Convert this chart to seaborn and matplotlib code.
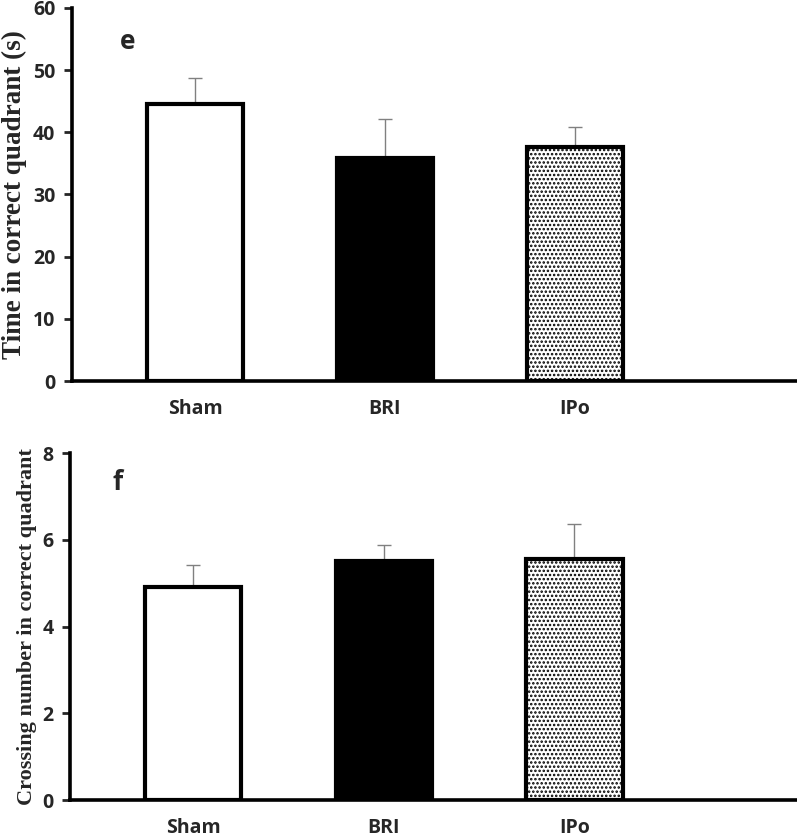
import matplotlib
matplotlib.use("Agg")
import matplotlib.pyplot as plt
import seaborn as sns
import pandas as pd

groups = ["Sham", "BRI", "IPo"]
time_mean = [44.5, 35.9, 37.7]
time_err = [4.2, 6.2, 3.1]
cross_mean = [4.9, 5.5, 5.55]
cross_err = [0.53, 0.38, 0.82]
fills = ["white", "black", "white"]
hatches = ["", "", "...."]

sns.set_style("white")
plt.rcParams["hatch.linewidth"] = 1.2
plt.rcParams["hatch.color"] = "#555555"

fig = plt.figure(figsize=(7.97, 8.38), dpi=100)
ax1 = fig.add_axes([0.0903, 0.5453, 0.9097, 0.4452])
ax2 = fig.add_axes([0.0878, 0.0453, 0.9122, 0.4141])

tick_font = dict(family="Open Sans", weight="bold", size=14)

def panel(ax, means, errs, ylim, yticks, ylabel, ylabsize, letter, lpos):
    df = pd.DataFrame({"group": groups, "value": means})
    sns.barplot(data=df, x="group", y="value", ax=ax, width=0.505,
                color="white", edgecolor="black", linewidth=3, errorbar=None)
    for p, fc, h, e, m in zip(ax.patches, fills, hatches, errs, means):
        p.set_facecolor(fc)
        p.set_hatch(h)
        cx = p.get_x() + p.get_width() / 2
        ax.errorbar(cx, m, yerr=[[0], [e]], fmt="none", ecolor="#808080",
                    elinewidth=1.0, capsize=5, capthick=1.0, zorder=1)
    for p in ax.patches:
        p.set_zorder(2)
    ax.set_xlim(-0.647, 3.168)
    ax.set_ylim(*ylim)
    ax.set_yticks(yticks)
    ax.set_yticklabels([str(t) for t in yticks], **tick_font)
    ax.set_xticks(range(len(groups)))
    ax.set_xticklabels(groups, **tick_font)
    ax.set_xlabel("")
    ax.set_ylabel(ylabel, family="Liberation Serif", weight="bold", size=ylabsize, labelpad=4)
    for s in ["top", "right"]:
        ax.spines[s].set_visible(False)
    for s in ["left", "bottom"]:
        ax.spines[s].set_linewidth(2.6)
        ax.spines[s].set_color("black")
    ax.tick_params(axis="y", direction="out", length=6, width=2, left=True, pad=6)
    ax.tick_params(axis="x", length=0, pad=13)
    ax.text(lpos[0], lpos[1], letter, transform=ax.transAxes, family="Open Sans",
            weight="bold", size=19, va="center", ha="center")

panel(ax1, time_mean, time_err, (0, 60), [0, 10, 20, 30, 40, 50, 60],
      "Time in correct quadrant (s)", 19.5, "e", (0.077, 0.91))
panel(ax2, cross_mean, cross_err, (0, 8), [0, 2, 4, 6, 8],
      "Crossing number in correct quadrant", 16, "f", (0.065, 0.915))

fig.savefig("out.png", dpi=100)
